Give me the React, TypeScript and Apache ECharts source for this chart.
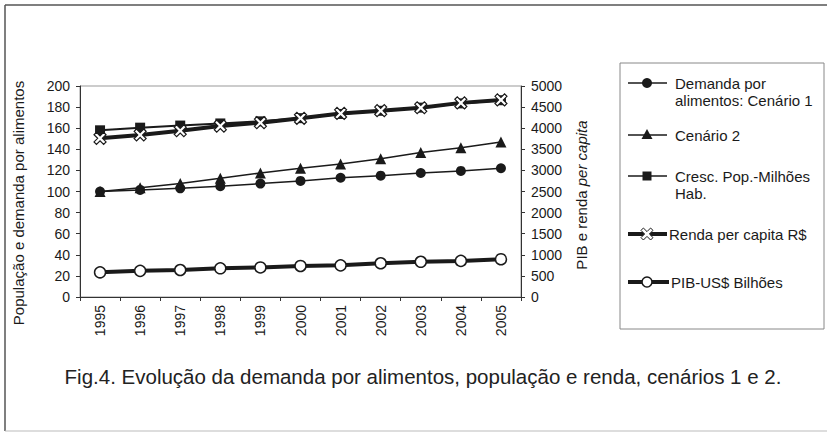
import React, { useEffect, useRef } from "react";
import * as echarts from "echarts";

const years = ["1995", "1996", "1997", "1998", "1999", "2000", "2001", "2002", "2003", "2004", "2005"];
const demanda1 = [100, 101.5, 103, 105, 107.5, 110, 113, 115, 117.5, 119.5, 122];
const cenario2 = [100, 103.5, 107.5, 112.5, 117.5, 122, 126, 131, 137, 141.5, 147];
const populacao = [158, 160.5, 162.5, 164.5, 166.5, 169.5, 173.5, 176.5, 179.5, 183.5, 186.5];
const rendaPerCapita = [3760, 3840, 3940, 4050, 4130, 4235, 4350, 4415, 4485, 4600, 4670];
const pib = [585, 620, 640, 680, 700, 735, 750, 800, 835, 855, 895];

const leftTicks = { min: 0, max: 200, interval: 20 };
const rightTicks = { min: 0, max: 5000, interval: 500 };

const FONT = "'Liberation Sans', Arial, sans-serif";
const INK = "#1a1a1a";
const X_PATH = "path://M0,2 L2,0 L5,3 L8,0 L10,2 L7,5 L10,8 L8,10 L5,7 L2,10 L0,8 L3,5 Z";

function crossPoints(cx: number, cy: number, s: number) {
  const p = [[0, 2], [2, 0], [5, 3], [8, 0], [10, 2], [7, 5], [10, 8], [8, 10], [5, 7], [2, 10], [0, 8], [3, 5]];
  return p.map(([x, y]) => [cx + (x - 5) * s, cy + (y - 5) * s]);
}

export default function App() {
  const ref = useRef<HTMLDivElement>(null);
  useEffect(() => {
    document.body.style.margin = "0";
    const chart = echarts.init(ref.current!, undefined, { renderer: "svg" });
    const txt = (x: number, y: number, text: string, extra: any = {}) => ({
      type: "text",
      x,
      y,
      style: { text, fontSize: 15, fontFamily: FONT, fill: INK, textVerticalAlign: "middle", ...extra },
    });
    const ln = (x1: number, y1: number, x2: number, y2: number, w: number, color = INK) => ({
      type: "line",
      shape: { x1, y1, x2, y2 },
      style: { stroke: color, lineWidth: w },
    });
    const option: any = {
      animation: false,
      textStyle: { fontFamily: FONT },
      grid: {
        left: 80,
        right: 306,
        top: 86,
        bottom: 136,
        show: true,
        borderColor: "#999",
        borderWidth: 1,
        backgroundColor: "transparent",
      },
      xAxis: {
        type: "category",
        data: years,
        boundaryGap: true,
        axisLine: { lineStyle: { color: "#333", width: 1 } },
        axisTick: { show: true, length: 4, lineStyle: { color: "#333" } },
        axisLabel: { rotate: 90, fontSize: 14, color: INK, margin: 8, fontFamily: FONT },
      },
      yAxis: [
        {
          type: "value",
          ...leftTicks,
          position: "left",
          axisLine: { show: true, lineStyle: { color: "#333", width: 1 } },
          axisTick: { show: true, length: 4, lineStyle: { color: "#333" } },
          axisLabel: { fontSize: 14, color: INK, margin: 10, fontFamily: FONT, formatter: (v: number) => String(v) },
          splitLine: { show: false },
        },
        {
          type: "value",
          ...rightTicks,
          position: "right",
          axisLine: { show: true, lineStyle: { color: "#333", width: 1 } },
          axisTick: { show: true, length: 4, lineStyle: { color: "#333" } },
          axisLabel: { fontSize: 14, color: INK, margin: 10, fontFamily: FONT, formatter: (v: number) => String(v) },
          splitLine: { show: false },
        },
      ],
      series: [
        {
          name: "Demanda por alimentos: Cenário 1",
          type: "line",
          yAxisIndex: 0,
          data: demanda1,
          symbol: "circle",
          symbolSize: 10,
          lineStyle: { color: INK, width: 1.5 },
          itemStyle: { color: INK },
        },
        {
          name: "Cenário 2",
          type: "line",
          yAxisIndex: 0,
          data: cenario2,
          symbol: "triangle",
          symbolSize: 11,
          lineStyle: { color: INK, width: 1.5 },
          itemStyle: { color: INK },
        },
        {
          name: "Cresc. Pop.-Milhões Hab.",
          type: "line",
          yAxisIndex: 0,
          data: populacao,
          symbol: "rect",
          symbolSize: 10,
          lineStyle: { color: INK, width: 2 },
          itemStyle: { color: INK },
        },
        {
          name: "Renda per capita R$",
          type: "line",
          yAxisIndex: 1,
          data: rendaPerCapita,
          symbol: X_PATH,
          symbolSize: 12,
          lineStyle: { color: INK, width: 4 },
          itemStyle: { color: "#fff", borderColor: INK, borderWidth: 1.2 },
        },
        {
          name: "PIB-US$ Bilhões",
          type: "line",
          yAxisIndex: 1,
          data: pib,
          symbol: "circle",
          symbolSize: 11,
          lineStyle: { color: INK, width: 4 },
          itemStyle: { color: "#fff", borderColor: INK, borderWidth: 1.5 },
        },
      ],
      graphic: [
        // outer frame
        ln(5, 5, 827, 5, 1.5, "#555"),
        ln(5, 5, 5, 431, 1.5, "#555"),
        ln(5, 431, 827, 431, 1, "#bbb"),
        // axis titles
        {
          type: "text",
          x: 18,
          y: 203,
          rotation: Math.PI / 2,
          style: {
            text: "População e demanda por alimentos",
            fontSize: 15,
            fontFamily: FONT,
            fill: INK,
            textAlign: "center",
            textVerticalAlign: "middle",
          },
        },
        {
          type: "text",
          x: 581,
          y: 195,
          rotation: Math.PI / 2,
          style: {
            text: "{a|PIB e renda }{b|per capita}",
            fontSize: 15,
            fontFamily: FONT,
            fill: INK,
            textAlign: "center",
            textVerticalAlign: "middle",
            rich: {
              a: { fontSize: 15, fontFamily: FONT, fill: INK },
              b: { fontSize: 15, fontFamily: FONT, fill: INK, fontStyle: "italic" },
            },
          },
        },
        // legend box
        {
          type: "rect",
          shape: { x: 620, y: 63, width: 204, height: 266 },
          style: { fill: "#fff", stroke: "#888", lineWidth: 1 },
        },
        ln(628, 83, 667, 83, 1.5),
        { type: "circle", shape: { cx: 647, cy: 83, r: 5 }, style: { fill: INK } },
        txt(675, 83, "Demanda por"),
        txt(675, 100, "alimentos: Cenário 1"),
        ln(628, 135, 667, 135, 1.5),
        { type: "polygon", shape: { points: [[647, 129], [641.5, 139], [652.5, 139]] }, style: { fill: INK } },
        txt(675, 135, "Cenário 2"),
        ln(628, 176, 667, 176, 1.5),
        { type: "rect", shape: { x: 642.5, y: 171.5, width: 9, height: 9 }, style: { fill: INK } },
        txt(675, 176, "Cresc. Pop.-Milhões"),
        txt(675, 193, "Hab."),
        ln(628, 234, 667, 234, 4),
        { type: "polygon", shape: { points: crossPoints(647, 234, 1.2) }, style: { fill: "#fff", stroke: INK, lineWidth: 1 } },
        txt(669, 234, "Renda per capita R$"),
        ln(628, 282, 669, 282, 4),
        { type: "circle", shape: { cx: 647, cy: 282, r: 5 }, style: { fill: "#fff", stroke: INK, lineWidth: 1.5 } },
        txt(671, 282, "PIB-US$ Bilhões"),
        // caption
        {
          type: "text",
          x: 423,
          y: 376,
          style: {
            text: "Fig.4. Evolução da demanda por alimentos, população e renda, cenários 1 e 2.",
            fontSize: 20.5,
            fontFamily: FONT,
            fill: "#222",
            textAlign: "center",
            textVerticalAlign: "middle",
          },
        },
      ],
    };
    chart.setOption(option);
    return () => chart.dispose();
  }, []);
  return <div ref={ref} style={{ width: 827, height: 433, position: "absolute", left: 0, top: 0, background: "#fff" }} />;
}
